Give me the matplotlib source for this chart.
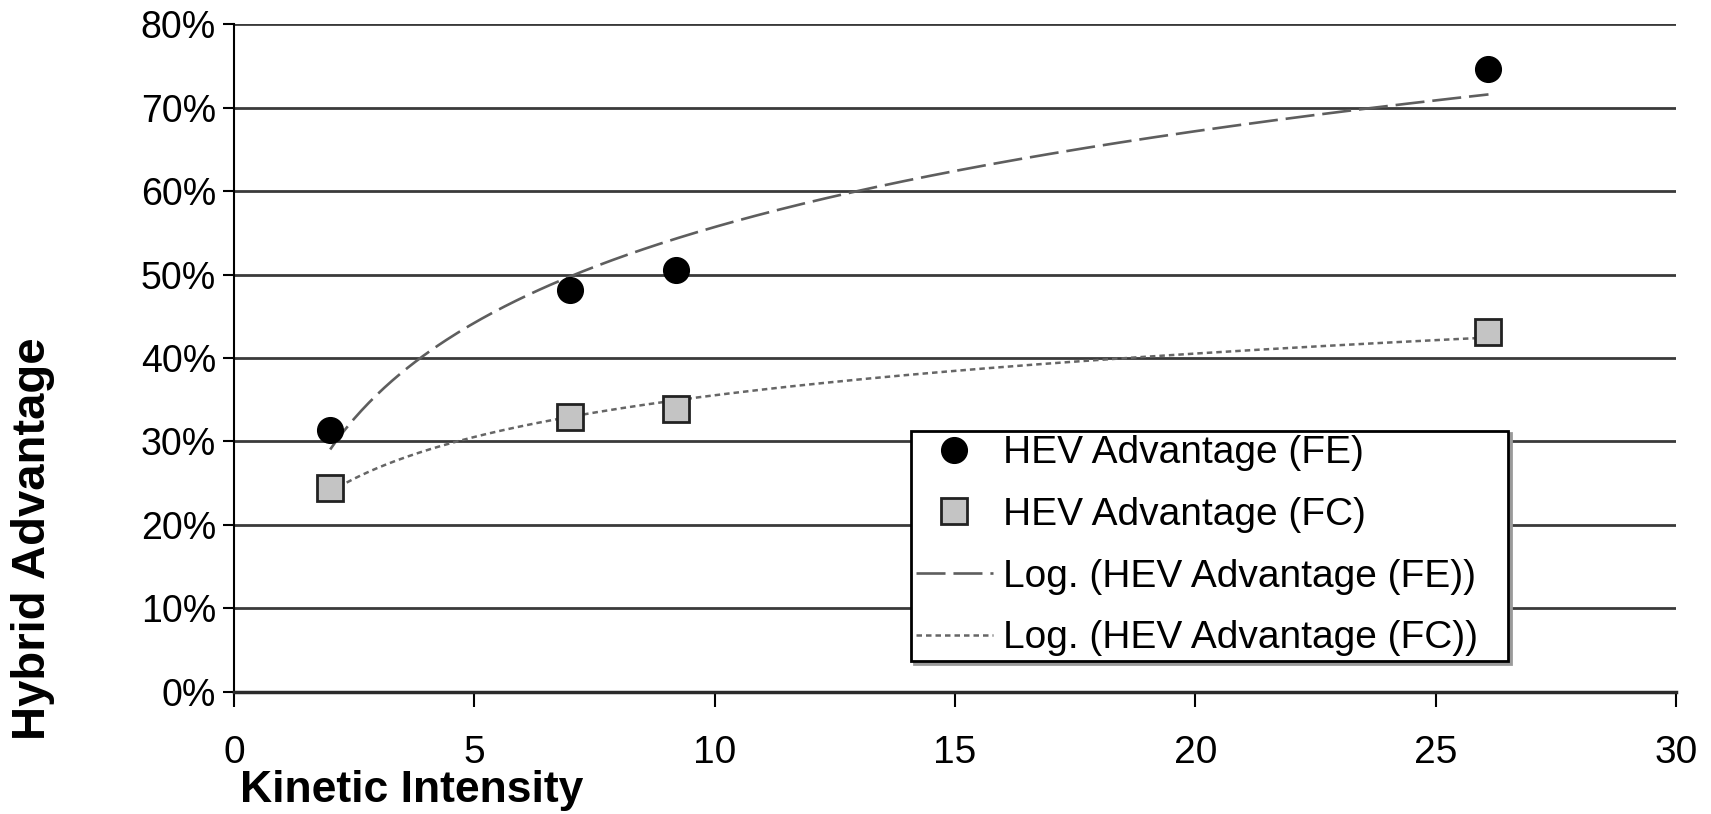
import numpy as np
import matplotlib
matplotlib.use("Agg")
import matplotlib.pyplot as plt
from matplotlib.ticker import PercentFormatter

plt.rcParams["font.family"] = ["Liberation Sans", "DejaVu Sans"]

# data
kinetic_intensity = [2.0, 7.0, 9.2, 26.1]
hev_fe = [31.4, 48.2, 50.5, 74.6]   # % advantage, fuel economy
hev_fc = [24.4, 32.9, 33.9, 43.1]   # % advantage, fuel consumption

x_ticks = [0, 5, 10, 15, 20, 25, 30]
y_ticks = [0, 10, 20, 30, 40, 50, 60, 70, 80]

fig = plt.figure(figsize=(17.11, 8.14), dpi=100)
ax = fig.add_axes([0.1368, 0.1499, 0.8427, 0.8206])

# logarithmic trendlines, like Excel's "Log." fit
x_arr = np.array(kinetic_intensity)
xs = np.linspace(x_arr.min(), x_arr.max(), 300)
b_fe, a_fe = np.polyfit(np.log(x_arr), hev_fe, 1)
b_fc, a_fc = np.polyfit(np.log(x_arr), hev_fc, 1)

ax.plot(kinetic_intensity, hev_fe, linestyle="none", marker="o", ms=18.5,
        mfc="black", mec="black", label="HEV Advantage (FE)", zorder=4)
ax.plot(kinetic_intensity, hev_fc, linestyle="none", marker="s", ms=19,
        mfc="#c4c4c4", mec="#222222", mew=2, label="HEV Advantage (FC)", zorder=4)
ax.plot(xs, a_fe + b_fe * np.log(xs), color="#5e5e5e", lw=1.9,
        dashes=(11, 3), label="Log. (HEV Advantage (FE))", zorder=3)
ax.plot(xs, a_fc + b_fc * np.log(xs), color="#666666", lw=1.8,
        dashes=(2.2, 1.6), label="Log. (HEV Advantage (FC))", zorder=3)

ax.set_xlim(0, 30)
ax.set_ylim(0, 80)
ax.set_xticks(x_ticks)
ax.set_yticks(y_ticks)
ax.yaxis.set_major_formatter(PercentFormatter(xmax=100, decimals=0))

ax.grid(axis="y", color="#3a3a3a", lw=2)
ax.set_axisbelow(True)
for s in ["top", "right"]:
    ax.spines[s].set_visible(False)
ax.spines["left"].set_linewidth(1.5)
ax.spines["bottom"].set_linewidth(2.5)
ax.spines["bottom"].set_color("#2a2a2a")

ax.tick_params(axis="x", direction="out", length=11, width=1.5, pad=20,
               labelsize=28)
ax.tick_params(axis="y", direction="out", length=8, width=1.5, pad=5,
               labelsize=27)

fig.text(0.140, 0.029, "Kinetic Intensity", fontsize=32, fontweight="bold",
         ha="left", va="center")
fig.text(0.019, 0.338, "Hybrid Advantage", fontsize=34, fontweight="bold",
         rotation=90, ha="center", va="center")

leg = ax.legend(loc="lower left", bbox_to_anchor=(0.5324, 0.188, 0.349, 0.292),
                bbox_transform=fig.transFigure, mode="expand",
                fontsize=28, frameon=True, fancybox=False, framealpha=1,
                edgecolor="black", borderpad=0.12, labelspacing=0.66,
                handlelength=2.0, handletextpad=0.25, borderaxespad=0,
                shadow={"color": "#9a9a9a", "alpha": 1})
leg.get_frame().set_linewidth(2)

fig.savefig("out.png", dpi=100)
